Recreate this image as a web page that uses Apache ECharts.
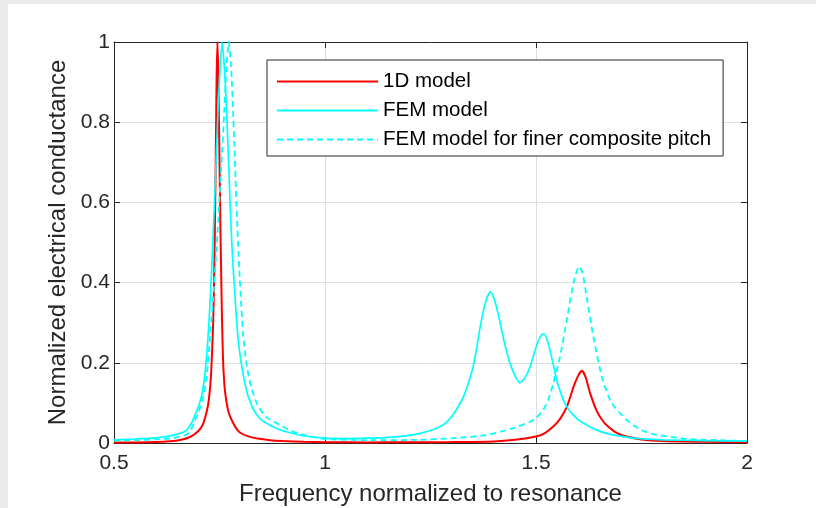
<!DOCTYPE html>
<html>
<head>
<meta charset="utf-8">
<script src="https://cdn.jsdelivr.net/npm/echarts@6/dist/echarts.min.js"></script>
<style>
  html, body { margin: 0; padding: 0; background: #e9ebec; }
  #chart { position: absolute; left: 8px; top: 4px; width: 808px; height: 504px; background: #fff; }
</style>
</head>
<body>
<div id="chart"></div>
<script>
// values: [normalized frequency, normalized conductance]
const xTicks = [0.5, 1, 1.5, 2];
const yTicks = [0, 0.2, 0.4, 0.6, 0.8, 1];
const seriesNames = ['1D model', 'FEM model', 'FEM model for finer composite pitch'];

const redCurve = [
  [0.5, 0.001], [0.55, 0.0012], [0.6, 0.0022], [0.65, 0.006], [0.68, 0.015], [0.7, 0.03],
  [0.71, 0.045], [0.72, 0.08], [0.725, 0.11], [0.73, 0.17], [0.735, 0.3], [0.738, 0.45],
  [0.741, 0.7], [0.743, 0.9], [0.745, 1.0], [0.747, 0.93], [0.749, 0.78], [0.752, 0.55],
  [0.755, 0.36], [0.758, 0.22], [0.762, 0.14], [0.767, 0.1], [0.772, 0.075], [0.78, 0.055],
  [0.79, 0.036], [0.8, 0.025], [0.82, 0.016], [0.84, 0.011], [0.87, 0.007], [0.9, 0.005],
  [0.95, 0.003], [1.0, 0.002], [1.1, 0.0015], [1.2, 0.0017], [1.3, 0.0025], [1.4, 0.004],
  [1.45, 0.008], [1.5, 0.016], [1.52, 0.024], [1.541, 0.041], [1.557, 0.06], [1.573, 0.09],
  [1.589, 0.14], [1.6, 0.168], [1.609, 0.18], [1.618, 0.163], [1.628, 0.125], [1.643, 0.082],
  [1.655, 0.06], [1.667, 0.045], [1.69, 0.026], [1.715, 0.016], [1.75, 0.009], [1.8, 0.005],
  [1.9, 0.003], [2.0, 0.002]
];

const femCurve = [
  [0.5, 0.008], [0.55, 0.01], [0.6, 0.013], [0.63, 0.017], [0.65, 0.022], [0.67, 0.03],
  [0.684, 0.05], [0.69, 0.065], [0.7, 0.09], [0.71, 0.13], [0.718, 0.2], [0.725, 0.3],
  [0.73, 0.4], [0.735, 0.52], [0.74, 0.65], [0.745, 0.79], [0.75, 0.91], [0.756, 1.0],
  [0.762, 0.93], [0.768, 0.8], [0.775, 0.6], [0.78, 0.48], [0.787, 0.36], [0.794, 0.26],
  [0.8, 0.21], [0.81, 0.15], [0.82, 0.11], [0.835, 0.075], [0.85, 0.057], [0.87, 0.044],
  [0.888, 0.035], [0.92, 0.025], [0.95, 0.018], [1.0, 0.012], [1.05, 0.011], [1.1, 0.012],
  [1.15, 0.014], [1.2, 0.019], [1.225, 0.024], [1.25, 0.031], [1.273, 0.041], [1.29, 0.054],
  [1.304, 0.072], [1.317, 0.093], [1.328, 0.115], [1.34, 0.15], [1.351, 0.19], [1.36, 0.24],
  [1.367, 0.285], [1.375, 0.328], [1.383, 0.36], [1.392, 0.377], [1.4, 0.362], [1.406, 0.34],
  [1.414, 0.305], [1.422, 0.265], [1.43, 0.23], [1.438, 0.2], [1.45, 0.168], [1.462, 0.15],
  [1.474, 0.163], [1.486, 0.19], [1.495, 0.222], [1.505, 0.253], [1.512, 0.268], [1.519, 0.272],
  [1.526, 0.258], [1.533, 0.232], [1.541, 0.195], [1.549, 0.157], [1.557, 0.13], [1.565, 0.107],
  [1.575, 0.087], [1.588, 0.07], [1.6, 0.058], [1.62, 0.045], [1.64, 0.034], [1.667, 0.024],
  [1.7, 0.017], [1.73, 0.012], [1.8, 0.008], [1.9, 0.006], [2.0, 0.005]
];

const fineCurve = [
  [0.5, 0.006], [0.55, 0.007], [0.6, 0.009], [0.64, 0.012], [0.67, 0.02], [0.68, 0.028],
  [0.692, 0.057], [0.7, 0.075], [0.71, 0.11], [0.72, 0.17], [0.727, 0.257], [0.735, 0.36],
  [0.745, 0.52], [0.752, 0.65], [0.76, 0.8], [0.766, 0.93], [0.772, 1.0], [0.778, 0.93],
  [0.785, 0.75], [0.79, 0.6], [0.797, 0.43], [0.806, 0.27], [0.815, 0.19], [0.825, 0.14],
  [0.84, 0.095], [0.86, 0.065], [0.893, 0.045], [0.92, 0.03], [0.95, 0.02], [1.0, 0.01],
  [1.1, 0.007], [1.225, 0.008], [1.304, 0.012], [1.383, 0.02], [1.446, 0.037], [1.486, 0.053],
  [1.5, 0.062], [1.517, 0.082], [1.53, 0.11], [1.541, 0.149], [1.557, 0.215], [1.573, 0.307],
  [1.589, 0.4], [1.602, 0.44], [1.61, 0.425], [1.62, 0.365], [1.636, 0.265], [1.656, 0.165],
  [1.679, 0.1], [1.715, 0.057], [1.75, 0.032], [1.778, 0.022], [1.85, 0.011], [1.9, 0.008],
  [2.0, 0.005]
];

const font = "'Liberation Sans', Arial, sans-serif";
const axisColor = '#262626';

function boxAxis(pos, min, max, step, labels, extra) {
  return Object.assign({
    type: 'value', position: pos, min: min, max: max, interval: step,
    axisLine: {show: true, onZero: false, lineStyle: {color: axisColor, width: 1}},
    axisTick: {show: true, inside: true, length: 6, lineStyle: {color: axisColor}},
    axisLabel: {show: labels, color: axisColor, fontFamily: font, fontSize: 21},
    splitLine: {show: labels, lineStyle: {color: '#dedede', width: 1}}
  }, extra || {});
}

const chart = echarts.init(document.getElementById('chart'));
chart.setOption({
  animation: false,
  grid: {left: 106, top: 38, right: 69, bottom: 65, outerBoundsMode: 'none'},
  legend: {
    orient: 'vertical', left: 259, top: 56,
    data: seriesNames,
    itemWidth: 101, itemHeight: 2, itemGap: 8,
    padding: [11, 12, 6, 9],
    borderColor: axisColor, borderWidth: 1, backgroundColor: '#fff',
    itemStyle: {color: 'transparent', borderWidth: 0},
    textStyle: {color: '#000', fontFamily: font, fontSize: 20.5}
  },
  xAxis: [
    boxAxis('bottom', xTicks[0], xTicks[xTicks.length - 1], 0.5, true, {
      name: 'Frequency normalized to resonance', nameLocation: 'middle', nameGap: 39,
      nameTextStyle: {color: axisColor, fontFamily: font, fontSize: 24},
      axisLabel: {show: true, color: axisColor, fontFamily: font, fontSize: 21, margin: 10}
    }),
    boxAxis('top', xTicks[0], xTicks[xTicks.length - 1], 0.5, false)
  ],
  yAxis: [
    boxAxis('left', yTicks[0], yTicks[yTicks.length - 1], 0.2, true, {
      name: 'Normalized electrical conductance', nameLocation: 'middle', nameGap: 40,
      nameTextStyle: {color: axisColor, fontFamily: font, fontSize: 24},
      axisLabel: {show: true, color: axisColor, fontFamily: font, fontSize: 21, margin: 4}
    }),
    boxAxis('right', yTicks[0], yTicks[yTicks.length - 1], 0.2, false)
  ],
  series: [
    {name: seriesNames[0], type: 'line', data: redCurve, symbol: 'none', smooth: 0.2,
     lineStyle: {color: '#ff0000', width: 2}, itemStyle: {color: '#ff0000'}},
    {name: seriesNames[1], type: 'line', data: femCurve, symbol: 'none', smooth: 0.2,
     lineStyle: {color: '#00ffff', width: 1.7}, itemStyle: {color: '#00ffff'}},
    {name: seriesNames[2], type: 'line', data: fineCurve, symbol: 'none', smooth: 0.2,
     lineStyle: {color: '#00ffff', width: 1.8, type: [6, 4]}, itemStyle: {color: '#00ffff'}}
  ]
});
</script>
</body>
</html>
